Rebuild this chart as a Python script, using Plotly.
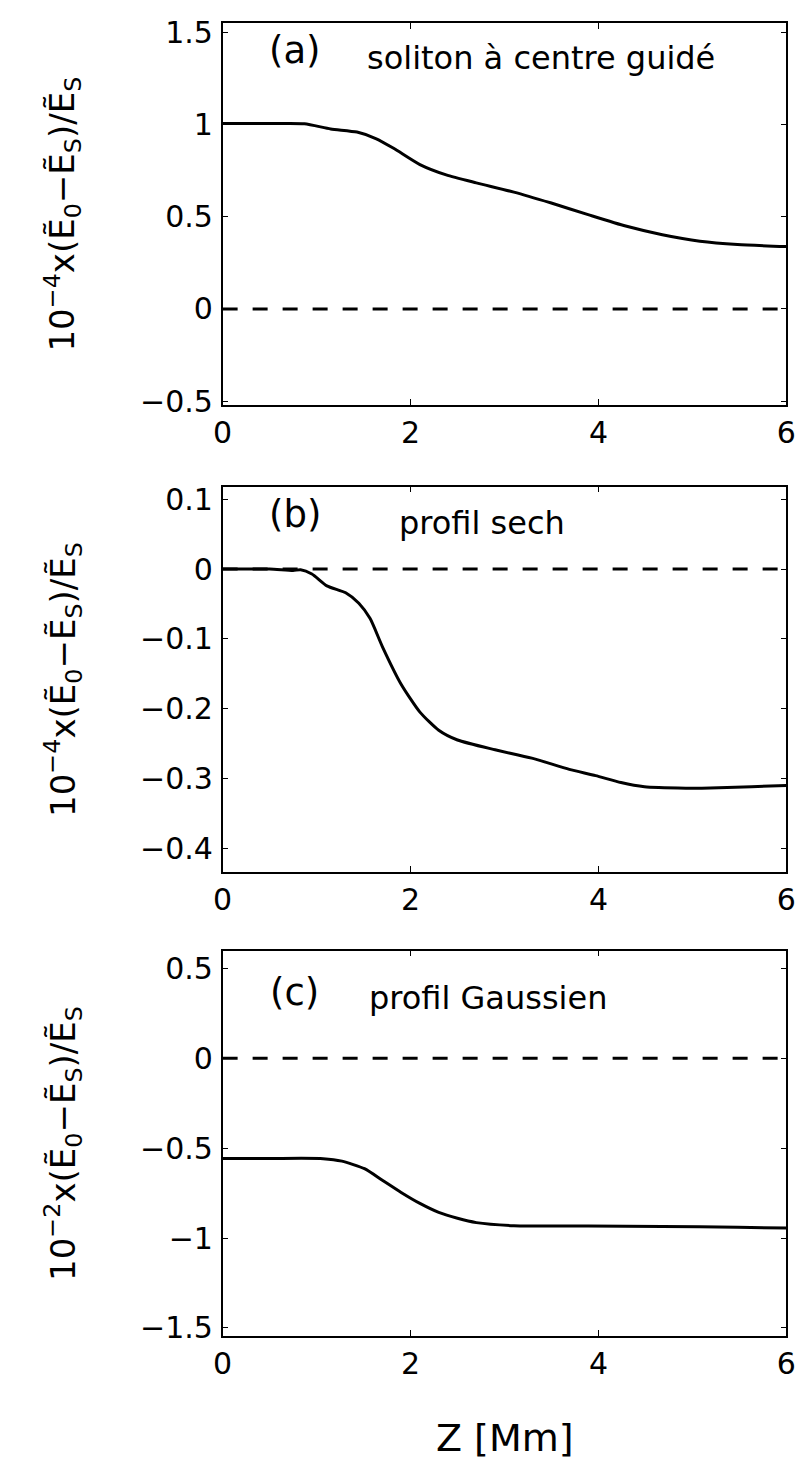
import plotly.graph_objects as go

# ---- data ----
za = [0, 0.5, 0.87, 1.15, 1.43, 1.63, 1.82, 2.10, 2.38, 2.70, 3.10, 3.49, 3.89, 4.29, 4.68, 5.08, 5.48, 6.0]
va = [1.004, 1.004, 1.003, 0.975, 0.958, 0.923, 0.870, 0.782, 0.726, 0.683, 0.633, 0.575, 0.511, 0.449, 0.402, 0.367, 0.349, 0.338]

zb = [0, 0.5, 0.75, 0.83, 0.95, 1.11, 1.31, 1.45, 1.57, 1.70, 1.90, 2.10, 2.30, 2.50, 2.90, 3.29, 3.69, 3.97, 4.24, 4.49, 4.93, 5.10, 5.63, 6.0]
vb = [0, 0, -0.002, -0.001, -0.007, -0.024, -0.034, -0.049, -0.071, -0.111, -0.165, -0.205, -0.231, -0.245, -0.259, -0.271, -0.287, -0.296, -0.306, -0.312, -0.314, -0.314, -0.312, -0.310]

zc = [0, 0.5, 1.07, 1.27, 1.51, 1.70, 1.90, 2.10, 2.30, 2.50, 2.70, 3.10, 3.89, 4.68, 5.48, 6.0]
vc = [-0.557, -0.557, -0.558, -0.572, -0.614, -0.678, -0.746, -0.807, -0.857, -0.890, -0.914, -0.931, -0.933, -0.935, -0.940, -0.944]

ref_x = [0, 6]
ref_y = [0, 0]

x_ticks = [0, 2, 4, 6]
ticks_a = [-0.5, 0, 0.5, 1, 1.5]
ticks_b = [-0.4, -0.3, -0.2, -0.1, 0, 0.1]
ticks_c = [-1.5, -1, -0.5, 0, 0.5]

panel_labels = ["(a)", "(b)", "(c)"]
panel_texts = ["soliton à centre guidé", "profil sech", "profil Gaussien"]
y_titles = [
    "10<sup>−4</sup>x(Ẽ<sub>0</sub>−Ẽ<sub>S</sub>)/Ẽ<sub>S</sub>",
    "10<sup>−4</sup>x(Ẽ<sub>0</sub>−Ẽ<sub>S</sub>)/Ẽ<sub>S</sub>",
    "10<sup>−2</sup>x(Ẽ<sub>0</sub>−Ẽ<sub>S</sub>)/Ẽ<sub>S</sub>",
]
x_title = "Z [Mm]"

# ---- layout geometry ----
W, H = 810, 1472
FONT = "DejaVu Sans"
x_dom = [218 / W, 796 / W]
y_doms = [
    [1 - 403 / H, 1 - 15 / H],
    [1 - 877 / H, 1 - 486 / H],
    [1 - 1348 / H, 1 - 957 / H],
]
y_ranges = [[-0.52, 1.55], [-0.434, 0.118], [-1.544, 0.599]]
y_tickvals = [ticks_a, ticks_b, ticks_c]
label_y = [1.40, 0.078, 0.365]
text_y = [1.36, 0.066, 0.335]
text_x = [1.52, 1.86, 1.54]

series = [(za, va), (zb, vb), (zc, vc)]

fig = go.Figure()
for i, (zz, vv) in enumerate(series):
    sfx = "" if i == 0 else str(i + 1)
    xa_name, ya_name = "x" + sfx, "y" + sfx
    fig.add_trace(go.Scatter(x=ref_x, y=ref_y, mode="lines", xaxis=xa_name, yaxis=ya_name,
                             line=dict(color="black", width=3, dash="15px,15px"),
                             showlegend=False, hoverinfo="skip"))
    fig.add_trace(go.Scatter(x=zz, y=vv, mode="lines", xaxis=xa_name, yaxis=ya_name,
                             line=dict(color="black", width=3, shape="spline", smoothing=0.6),
                             showlegend=False))
    axcommon = dict(showline=True, linecolor="black", linewidth=1.5, mirror="ticks",
                    ticks="inside", ticklen=6, tickwidth=1.2, tickcolor="black",
                    showgrid=False, zeroline=False,
                    tickfont=dict(family=FONT, size=30, color="black"))
    fig.update_layout(**{
        ("xaxis" + sfx): dict(domain=x_dom, range=[0, 6], tickvals=x_ticks,
                              anchor=ya_name, ticklabelstandoff=0, **axcommon),
        ("yaxis" + sfx): dict(domain=y_doms[i], range=y_ranges[i], tickvals=y_tickvals[i],
                              anchor=xa_name, ticklabelstandoff=2, **axcommon),
    })
    fig.add_annotation(x=0.77, y=label_y[i], xref=xa_name, yref=ya_name, text=panel_labels[i],
                       showarrow=False, xanchor="center", yanchor="middle",
                       font=dict(family=FONT, size=37, color="black"))
    fig.add_annotation(x=text_x[i], y=text_y[i], xref=xa_name, yref=ya_name, text=panel_texts[i],
                       showarrow=False, xanchor="left", yanchor="middle",
                       font=dict(family=FONT, size=32, color="black"))
    fig.add_annotation(x=54 / W, y=sum(y_doms[i]) / 2, xref="paper", yref="paper", text=y_titles[i],
                       showarrow=False, textangle=-90, xanchor="center", yanchor="middle",
                       font=dict(family=FONT, size=34, color="black"))

fig.add_annotation(x=508 / W, y=1 - 1452 / H, xref="paper", yref="paper", text=x_title,
                   showarrow=False, xanchor="center", yanchor="middle",
                   font=dict(family=FONT, size=38, color="black"))

fig.update_layout(width=W, height=H, margin=dict(l=0, r=0, t=0, b=0),
                  paper_bgcolor="white", plot_bgcolor="white", showlegend=False)

fig.write_html("out.html", config={"displayModeBar": False},
               post_script="document.body.style.margin='0px';document.body.style.overflow='hidden';")
